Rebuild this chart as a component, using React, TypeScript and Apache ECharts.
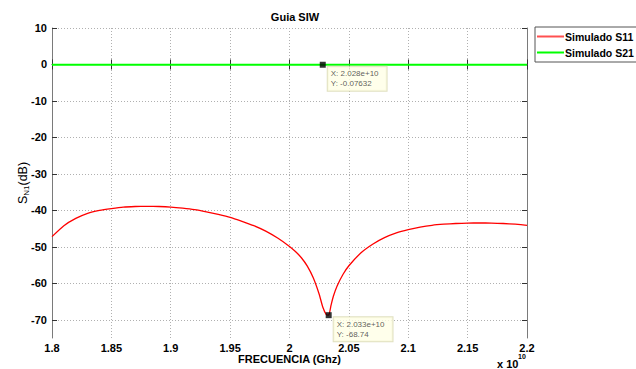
import React, { useEffect, useRef } from "react";
import * as echarts from "echarts";

const freq = [1.8, 1.81, 1.82, 1.83, 1.84, 1.85, 1.86, 1.87, 1.88, 1.89, 1.9, 1.91, 1.92, 1.93, 1.94, 1.95, 1.96, 1.97, 1.98, 1.99, 2.0, 2.005, 2.01, 2.015, 2.02, 2.025, 2.028, 2.031, 2.033, 2.035, 2.037, 2.04, 2.045, 2.05, 2.06, 2.07, 2.08, 2.09, 2.1, 2.11, 2.12, 2.13, 2.14, 2.15, 2.16, 2.17, 2.18, 2.19, 2.2];
const s11 = [-47.2, -44.2, -42.2, -40.8, -40.0, -39.5, -39.1, -38.95, -38.9, -38.95, -39.1, -39.4, -39.8, -40.4, -41.1, -41.9, -43.0, -44.2, -45.7, -47.6, -49.9, -51.3, -53.0, -55.3, -58.5, -63.0, -66.5, -68.6, -68.74, -66.0, -63.5, -60.8, -57.6, -55.2, -51.7, -49.3, -47.5, -46.2, -45.3, -44.6, -44.1, -43.8, -43.6, -43.5, -43.45, -43.5, -43.6, -43.8, -44.1];
const s21Freq = [1.8, 2.028, 2.2];
const s21 = [-0.07632, -0.07632, -0.07632];
const yTicks = [10, 0, -10, -20, -30, -40, -50, -60, -70];
const tips = [
  { x: 2.028, y: -0.07632, lx: "2.028e+10", ly: "-0.07632" },
  { x: 2.033, y: -68.74, lx: "2.033e+10", ly: "-68.74" },
];

export default function App() {
  const ref = useRef<HTMLDivElement>(null);
  useEffect(() => {
    const chart = echarts.init(ref.current!, null, { renderer: "svg" });
    const font = "Liberation Sans, Arial, sans-serif";
    const gridLine = { show: true, lineStyle: { color: "#b0b0b0", type: [1, 2] as any, width: 1 } };
    const axisLineStyle = { color: "#7a7a7a", width: 1 };
    chart.setOption({
      animation: false,
      backgroundColor: "#fff",
      title: {
        text: "Guia SIW",
        left: 290,
        textAlign: "center",
        top: 6,
        textStyle: { fontFamily: font, fontWeight: "bold", fontSize: 11, color: "#000" },
      },
      legend: {
        left: 535,
        top: 27,
        orient: "vertical",
        padding: [4, 4, 4, 2],
        itemGap: 5,
        itemWidth: 27,
        itemHeight: 2,
        borderColor: "#555",
        borderWidth: 1,
        backgroundColor: "#fff",
        icon: "rect",
        textStyle: { fontFamily: font, fontWeight: "bold", fontSize: 10.5, color: "#000", padding: [0, 0, 0, -4] },
        data: ["Simulado S11", "Simulado S21"],
      },
      grid: { left: 52, right: 109, top: 28, bottom: 31, outerBoundsMode: "none", containLabel: false },
      xAxis: [
        {
          type: "value",
          min: 1.8,
          max: 2.2,
          interval: 0.05,
          name: "FRECUENCIA (Ghz)",
          nameLocation: "middle",
          nameGap: 15,
          nameMoveOverlap: false,
          nameTextStyle: { fontFamily: font, fontWeight: "bold", fontSize: 11, color: "#000" },
          axisLine: { show: true, lineStyle: axisLineStyle },
          axisTick: { show: true, inside: true, length: 5, lineStyle: { color: "#333" } },
          axisLabel: {
            fontFamily: font, fontWeight: "bold", fontSize: 11, color: "#000", margin: 4,
            formatter: (v: number) => String(parseFloat(v.toFixed(2))),
          },
          splitLine: gridLine,
        },
        {
          type: "value",
          position: "top",
          min: 1.8,
          max: 2.2,
          interval: 0.05,
          axisLine: { show: true, lineStyle: axisLineStyle },
          axisTick: { show: true, inside: true, length: 5, lineStyle: { color: "#333" } },
          axisLabel: { show: false },
          splitLine: { show: false },
        },
      ],
      yAxis: [
        {
          type: "value",
          min: -75,
          max: 10,
          name: "{s|S}{sub|N1}{s|(dB)}",
          nameLocation: "middle",
          nameGap: 22,
          nameMoveOverlap: false,
          nameTextStyle: {
            rich: {
              s: { fontFamily: font, fontSize: 12.5, color: "#000" },
              sub: { fontFamily: font, fontSize: 8, color: "#000", verticalAlign: "bottom", padding: [6, 0, 0, 0] },
            },
          },
          axisLine: { show: true, lineStyle: axisLineStyle },
          axisTick: { show: true, inside: true, length: 5, lineStyle: { color: "#333" }, customValues: yTicks },
          axisLabel: {
            fontFamily: font, fontWeight: "bold", fontSize: 11, color: "#000", margin: 5,
            customValues: yTicks,
          },
          splitLine: gridLine,
        },
        {
          type: "value",
          position: "right",
          min: -75,
          max: 10,
          axisLine: { show: true, lineStyle: axisLineStyle },
          axisTick: { show: true, inside: true, length: 5, lineStyle: { color: "#333" }, customValues: yTicks },
          axisLabel: { show: false, customValues: yTicks },
          splitLine: { show: false },
        },
      ],
      graphic: [
        {
          type: "text",
          left: 497,
          top: 358,
          style: { text: "x 10", font: `bold 11px ${font}`, fill: "#000" },
        },
        {
          type: "text",
          left: 518,
          top: 353,
          style: { text: "10", font: `bold 7px ${font}`, fill: "#000" },
        },
      ],
      series: [
        {
          name: "Simulado S11",
          type: "line",
          data: freq.map((f, i) => [f, s11[i]]),
          symbol: "none",
          smooth: 0.2,
          lineStyle: { color: "#ff0000", width: 1.3 },
          itemStyle: { color: "#ff5050" },
          z: 3,
        },
        {
          name: "Simulado S21",
          type: "line",
          data: s21Freq.map((f, i) => [f, s21[i]]),
          symbol: "none",
          lineStyle: { color: "#00ff00", width: 2 },
          itemStyle: { color: "#00ff00" },
          z: 3,
        },
        {
          name: "tips",
          type: "scatter",
          data: tips.map((t) => ({ value: [t.x, t.y], tip: t })),
          symbol: "rect",
          symbolSize: 6,
          itemStyle: { color: "#000" },
          z: 5,
          label: {
            show: true,
            position: "right",
            align: "left",
            verticalAlign: "top",
            offset: [0, 2],
            distance: 2,
            formatter: (p: any) => `X: ${p.data.tip.lx}\nY: ${p.data.tip.ly}`,
            fontFamily: font,
            fontSize: 8,
            lineHeight: 10,
            color: "#333",
            backgroundColor: "#ffffe6",
            borderColor: "#d8d8b0",
            borderWidth: 1,
            padding: [2, 8, 2, 3],
          },
        },
      ],
    });
    return () => chart.dispose();
  }, []);
  return <div ref={ref} style={{ position: "fixed", left: 0, top: 0, width: 636, height: 369 }} />;
}
